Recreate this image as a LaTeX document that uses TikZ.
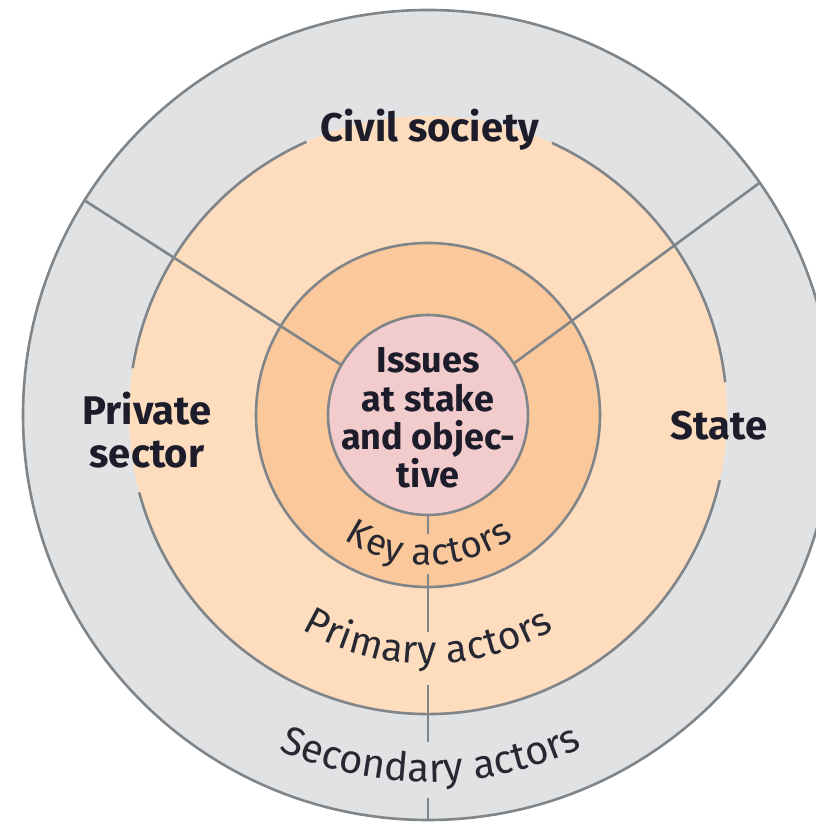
\documentclass[tikz,border=0pt]{standalone}
\usepackage{fontspec}
\setmainfont{Fira Sans}
\usetikzlibrary{decorations.text}
\definecolor{ringline}{RGB}{128,133,137}
\definecolor{outerfill}{RGB}{225,226,228}
\definecolor{primfill}{RGB}{253,221,190}
\definecolor{keyfill}{RGB}{250,200,155}
\definecolor{corefill}{RGB}{242,204,205}
\definecolor{labeltxt}{RGB}{28,28,42}
\definecolor{arctxt}{RGB}{40,40,50}
\begin{document}
\begin{tikzpicture}[x=1pt,y=1pt,
  ring/.style={circle, inner sep=0pt, outer sep=0pt},
  rline/.style={draw=ringline, line width=2.6pt},
  boldlabel/.style={font=\bfseries\fontsize{40}{44}\selectfont, text=labeltxt, inner sep=0pt, anchor=base},
  corelabel/.style={font=\bfseries\fontsize{36}{38}\selectfont, text=labeltxt, inner sep=0pt, anchor=base}
]
\useasboundingbox (0,0) rectangle (816,822);
\coordinate (c) at (428,407);
% rings
\node[ring, rline, fill=outerfill, minimum size=810pt] (outer) at (c) {};
\node[ring, fill=primfill, minimum size=598pt] (prim) at (c) {};
\draw[rline] ([shift={(6.3:299)}]c) arc[start angle=6.3, end angle=65.5, radius=299];
\draw[rline] ([shift={(114:299)}]c) arc[start angle=114, end angle=171, radius=299];
\draw[rline] ([shift={(195:299)}]c) arc[start angle=195, end angle=347.4, radius=299];
\node[ring, rline, fill=keyfill, minimum size=344pt] (key) at (c) {};
\node[ring, rline, fill=corefill, minimum size=200pt] (core) at (c) {};
% spokes
\draw[rline] (core.150.9) -- (outer.148.1);
\draw[rline] (core.31.4) -- (outer.35.85);
% vertical divider with gaps
\coordinate (v1) at (428,288);
\coordinate (v2a) at (428,248);
\coordinate (v2b) at (428,190);
\coordinate (v3a) at (428,137);
\coordinate (v3b) at (428,80);
\coordinate (v4) at (428,24);
\draw[rline] (core.south) -- (v1);
\draw[rline] (v2a) -- (v2b);
\draw[rline] (v3a) -- (v3b);
\draw[rline] (v4) -- (outer.south);
% straight labels
\node[boldlabel] (civil) at (430,680) {Civil society};
\node[boldlabel] (priv1) at (147,397) {Private};
\node[boldlabel] (priv2) at (147,354) {sector};
\node[boldlabel] (state) at (719,382) {State};
\node[corelabel] (core1) at (428,449) {Issues};
\node[corelabel] (core2) at (428,410) {at stake};
\node[corelabel] (core3) at (428,372) {and objec-};
\node[corelabel] (core4) at (428,334) {tive};
% curved labels
\path[decorate, decoration={text along path, text align={fit to path},
  text={|\fontsize{37}{40}\selectfont\color{arctxt}|Key actors}}]
  ([shift={(236:150)}]c) arc[start angle=236, end angle=305, radius=150];
\path[decorate, decoration={text along path, text align={fit to path},
  text={|\fontsize{39}{42}\selectfont\color{arctxt}|Primary actors}}]
  ([shift={(239.5:249)}]c) arc[start angle=239.5, end angle=300.5, radius=249];
\path[decorate, decoration={text along path, text align={fit to path},
  text={|\fontsize{40}{42}\selectfont\color{arctxt}|Secondary actors}}]
  ([shift={(246:367)}]c) arc[start angle=246, end angle=294, radius=367];
\end{tikzpicture}
\end{document}
